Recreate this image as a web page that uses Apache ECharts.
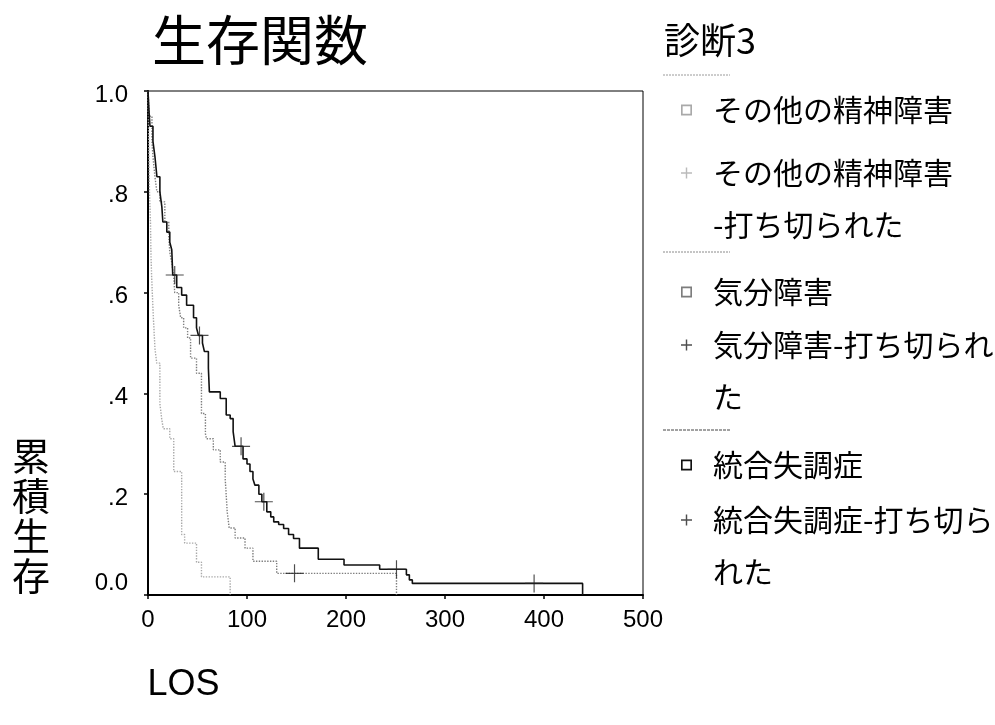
<!DOCTYPE html>
<html><head><meta charset="utf-8">
<script src="https://cdn.jsdelivr.net/npm/echarts@6/dist/echarts.min.js"></script>
<style>html,body{margin:0;padding:0;background:#fff}#c{width:995px;height:725px}</style>
</head><body><div id="c"></div>
<script>
// ---- data ----
const otherT = [0,0.5,1,1.5,2.5,3,3.7,5.3,7,8.8,12,13.8,15.4,22,26,34,37,49,54,83];
const otherS = [1.0,0.93,0.86,0.80,0.74,0.675,0.63,0.555,0.49,0.46,0.38,0.35,0.33,0.31,0.245,0.12,0.103,0.065,0.036,0];
const moodT = [0,1.5,4,5,7,9,12,17,21,22,24,26,27,31,33,36,40,43,49,54,58,59,66,73,78,79,80,82,88,98,106,130,251];
const moodS = [1.0,0.95,0.90,0.87,0.83,0.80,0.78,0.74,0.71,0.68,0.66,0.63,0.60,0.575,0.55,0.53,0.51,0.47,0.44,0.36,0.32,0.31,0.288,0.264,0.23,0.198,0.165,0.133,0.113,0.093,0.067,0.043,0];
const schizoT = [0,1,2,5,7,9,12,14,15,19,22,24,25,29,34,39,46,49,51,55,57,61,62,73,79,83,86,88,96,100,103,106,108,112,115,120,124,127,132,137,142,147,153,172,198,234,261,264,267,439];
const schizoS = [1.0,0.96,0.93,0.90,0.87,0.83,0.80,0.77,0.74,0.72,0.70,0.685,0.635,0.61,0.595,0.575,0.55,0.53,0.515,0.50,0.483,0.45,0.403,0.39,0.357,0.35,0.324,0.295,0.27,0.26,0.245,0.23,0.218,0.20,0.185,0.165,0.155,0.145,0.14,0.132,0.12,0.112,0.093,0.071,0.0595,0.051,0.04,0.03,0.023,0];
const censorOtherT = [];
const censorOtherS = [];
const censorMoodT = [148];
const censorMoodS = [0.043];
const censorSchizoT = [27,52,94,117,251,390];
const censorSchizoS = [0.635,0.515,0.295,0.185,0.051,0.023];
const yTickLabels = ['0.0','.2','.4','.6','.8','1.0'];
const seriesNames = ['その他の精神障害','その他の精神障害-打ち切られた','気分障害','気分障害-打ち切られた','統合失調症','統合失調症-打ち切られた'];
const legendLines = [['その他の精神障害'],['その他の精神障害','-打ち切られた'],['気分障害'],['気分障害-打ち切られ','た'],['統合失調症'],['統合失調症-打ち切ら','れた']];
const chartTitle = '生存関数';
const legendTitle = '診断3';
const xName = 'LOS';
const yNameChars = ['累','積','生','存'];

// ---- helpers ----
const zip = (a, b) => a.map((v, i) => [v, b[i]]);
const CJK = 'Noto Sans CJK JP';
const LAT = 'Liberation Sans, Arial, sans-serif';
const crossPath = 'path://M0,9.35H20V10.65H0Z M9.35,0H10.65V20H9.35Z';
const squareIcon = 'path://M0,0H10V10H0Z M1.5,1.5V8.5H8.5V1.5Z';
const crossIcon = 'path://M0,4.35H10V5.65H0Z M4.35,0H5.65V10H4.35Z';
const colors = ['#a9a9a9','#a9a9a9','#7d7d7d','#222','#111','#222'];
const legendCenter = [110,173,292,345,465,520];
const LH = 52;

const legends = seriesNames.map((n, i) => {
  const two = legendLines[i].length > 1;
  return {
    data: [{name: n, icon: i % 2 === 0 ? squareIcon : crossIcon, itemStyle: {color: colors[i], borderWidth: 0}}],
    left: 681, top: legendCenter[i] - (two ? 1.5 * LH : 0.5 * LH), padding: 0,
    itemWidth: 11, itemHeight: 11, selectedMode: false,
    formatter: () => (two ? '\n' : '') + legendLines[i].join('\n'),
    textStyle: {fontSize: 30, fontFamily: CJK, color: '#000', lineHeight: LH, padding: [0, 0, 0, 16]}
  };
});

const chart = echarts.init(document.getElementById('c'), null, {renderer: 'canvas'});
chart.setOption({
  animation: false,
  backgroundColor: '#fff',
  title: [
    {text: chartTitle, left: 152, top: 13, padding: 0, textStyle: {fontSize: 54, fontWeight: 'normal', fontFamily: CJK, color: '#000'}},
    {text: legendTitle, left: 664, top: 22, padding: 0, textStyle: {fontSize: 36, fontWeight: 'normal', fontFamily: CJK, color: '#000'}}
  ],
  legend: legends,
  grid: {left: 148, right: 352, top: 91, bottom: 130, show: true, borderColor: '#000', borderWidth: 1},
  xAxis: {
    type: 'value', min: 0, max: 500, interval: 100,
    axisLine: {show: true, onZero: false, lineStyle: {color: '#000', width: 2}},
    axisTick: {show: true, length: 4, lineStyle: {color: '#000', width: 1.5}},
    axisLabel: {fontSize: 24, fontFamily: LAT, color: '#000', margin: 13},
    splitLine: {show: false},
    name: xName, nameLocation: 'middle', nameGap: 90,
    nameTextStyle: {fontSize: 36, fontFamily: LAT, color: '#000', align: 'center', verticalAlign: 'middle', padding: [0, 424, 0, 0]}
  },
  yAxis: {
    type: 'value', min: 0, max: 1, interval: 0.2,
    axisLine: {show: true, onZero: false, lineStyle: {color: '#000', width: 2}},
    axisTick: {show: true, length: 4, lineStyle: {color: '#000', width: 1.5}},
    axisLabel: {
      margin: 20, color: '#000',
      formatter: v => { const i = Math.round(v * 5); return i === 0 ? '{z|' + yTickLabels[i] + '}' : '{n|' + yTickLabels[i] + '}'; },
      rich: {
        z: {fontSize: 24, fontFamily: LAT, color: '#000', padding: [0, 0, 24, 0]},
        n: {fontSize: 24, fontFamily: LAT, color: '#000', padding: [8, 0, 0, 0]}
      }
    },
    splitLine: {show: false},
    name: '{s| }\n' + yNameChars.map(c => '{c|' + c + '}').join('\n'),
    nameLocation: 'middle', nameRotate: 0, nameGap: 117,
    nameTextStyle: {
      fontSize: 38, fontFamily: CJK, color: '#000', align: 'center', verticalAlign: 'middle',
      rich: {
        s: {fontSize: 10, lineHeight: 345},
        c: {fontSize: 38, lineHeight: 40, fontFamily: CJK, color: '#000'}
      }
    }
  },
  graphic: [
    {type: 'line', shape: {x1: 663, y1: 75, x2: 730, y2: 75}, style: {stroke: '#9a9a9a', lineWidth: 1, lineDash: [2, 1]}},
    {type: 'line', shape: {x1: 663, y1: 252, x2: 730, y2: 252}, style: {stroke: '#8a8a8a', lineWidth: 1, lineDash: [2, 1]}},
    {type: 'line', shape: {x1: 663, y1: 430, x2: 730, y2: 430}, style: {stroke: '#444', lineWidth: 1, lineDash: [3, 1]}}
  ],
  series: [
    {name: seriesNames[0], type: 'line', step: 'end', showSymbol: false, symbol: 'none', data: zip(otherT, otherS),
      lineStyle: {color: colors[0], width: 1.4, type: 'dotted'}, itemStyle: {color: colors[0]}, z: 2},
    {name: seriesNames[1], type: 'scatter', data: zip(censorOtherT, censorOtherS), symbol: crossPath, symbolSize: 18, itemStyle: {color: colors[1]}, z: 5},
    {name: seriesNames[2], type: 'line', step: 'end', showSymbol: false, symbol: 'none', data: zip(moodT, moodS),
      lineStyle: {color: colors[2], width: 1.4, type: 'dotted'}, itemStyle: {color: colors[2]}, z: 3},
    {name: seriesNames[3], type: 'scatter', data: zip(censorMoodT, censorMoodS), symbol: crossPath, symbolSize: 18, itemStyle: {color: colors[3]}, z: 5},
    {name: seriesNames[4], type: 'line', step: 'end', showSymbol: false, symbol: 'none', data: zip(schizoT, schizoS),
      lineStyle: {color: colors[4], width: 1.6, type: 'solid'}, itemStyle: {color: colors[4]}, z: 4},
    {name: seriesNames[5], type: 'scatter', data: zip(censorSchizoT, censorSchizoS), symbol: crossPath, symbolSize: 18, itemStyle: {color: colors[5]}, z: 5}
  ]
});
</script></body></html>
